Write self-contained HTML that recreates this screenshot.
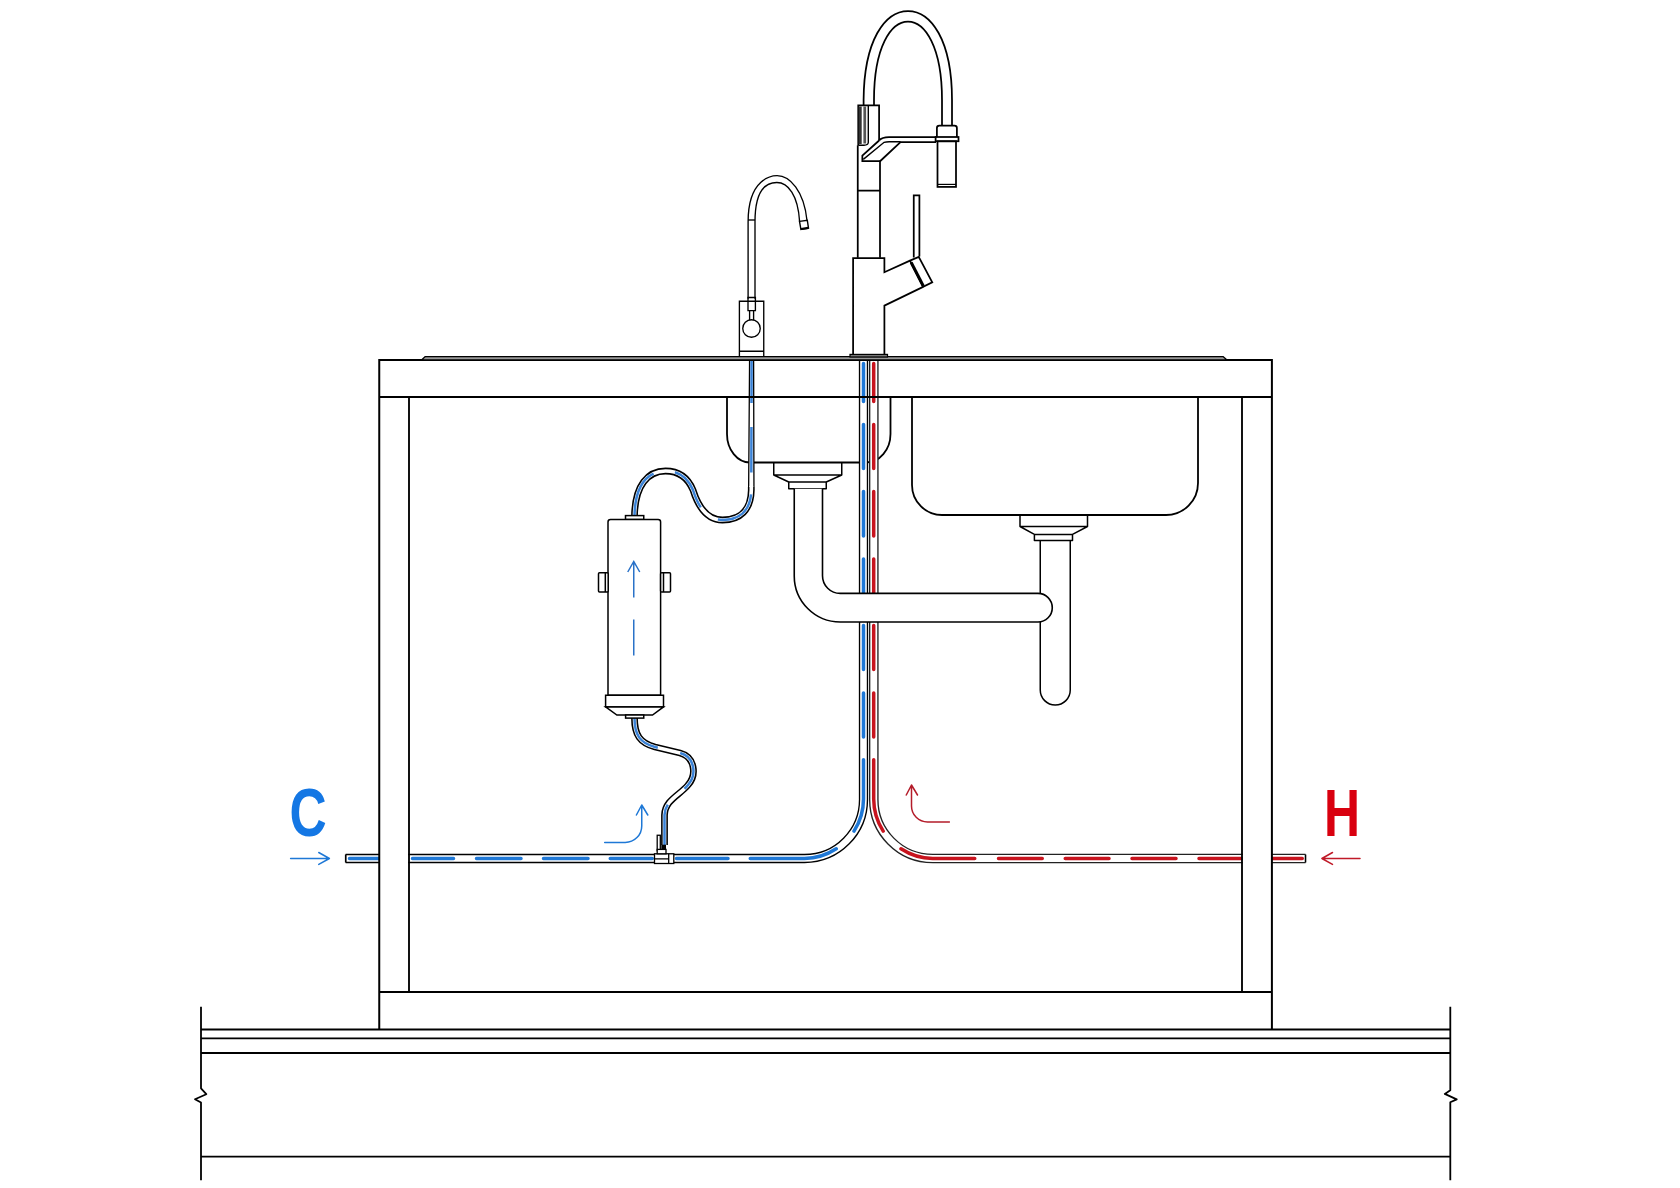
<!DOCTYPE html>
<html><head><meta charset="utf-8"><style>
html,body{margin:0;padding:0;background:#fff;}
svg{display:block;}
</style></head><body>
<svg width="1680" height="1188" viewBox="0 0 1680 1188">
<rect width="1680" height="1188" fill="#fff"/>
<g fill="none" stroke="#000" stroke-width="1.8" stroke-linejoin="round">
<!-- floor -->
<path d="M201,1029.5H1450.3M201,1038.3H1450.3M201,1053H1450.3M201,1156.7H1450.3"/>
<path d="M201,1006.7V1088.3L206.3,1094.2L195,1099.2L201,1102.5V1180.2"/>
<path d="M1450.3,1006.7V1090.2L1444.8,1093.9L1456.7,1099.4L1450.3,1102.2V1180.2"/>
<!-- small basin -->
<path d="M727,397V434A23,28.5 0 0 0 750,462.5H866A24.5,28.5 0 0 0 890.5,434V397"/>
<!-- big basin -->
<path d="M912,397V485A30,30 0 0 0 942,515H1166A32,32 0 0 0 1198,483V397"/>
<!-- drain flange 1 -->
<path d="M773.75,462.5V475H841.75V462.5M773.75,475L788.75,482H826.25L841.75,475M788.75,482V488.75H826.25V482" stroke-width="1.5"/>
<!-- drain flange 2 -->
<path d="M1020,514.75V526.5H1087.5V514.75M1020,526.5L1034.4,534.4H1072.5L1087.5,526.5M1034.4,534.4V540.6H1072.5V534.4" stroke-width="1.5"/>
<!-- trap pipe 2 -->
<path d="M1040.25,540.6V690A15,15 0 0 0 1070.25,690V540.6" stroke-width="1.5"/>
</g>

<!-- supply pipes -->
<g fill="none" stroke-linecap="butt">
<path d="M863.5,358V799A59,59 0 0 1 804.5,858.5H345.6" stroke="#000" stroke-width="9.3"/>
<path d="M873.8,358V799A59,59 0 0 0 932.8,858.5H1305.6" stroke="#222" stroke-width="9.6"/>
<path d="M863.5,358V799A59,59 0 0 1 804.5,858.5H346.4" stroke="#fff" stroke-width="6.6"/>
<path d="M873.8,358V799A59,59 0 0 0 932.8,858.5H1304.8" stroke="#fff" stroke-width="6.9"/>
</g>
<g fill="none" stroke-width="3.5" stroke-linecap="round">
<path stroke="#1f78d6" d="M863.5,363.5V401.5M863.5,424.5V468.5M863.5,491.5V536M863.5,559V603M863.5,625.5V669.5M863.5,693V737M863.5,759.8V799A59,59 0 0 1 854,831.1M836.2,848.8A59,59 0 0 1 804.5,858.5H750.25M728,858.5H676.5M652.25,858.5H610.25M588,858.5H543.5M521,858.5H476.5M453.5,858.5H412.5M379,858.5H349.5"/>
<path stroke="#c8141e" d="M873.7,363.5V401.5M873.7,424.5V468.5M873.7,491.5V536M873.7,559V603M873.7,625.5V669.5M873.7,693V737M873.7,759.8V799A59,59 0 0 0 883.2,831.1M901,848.8A59,59 0 0 0 932.7,858.5H974.75M998.5,858.5H1042.25M1065.25,858.5H1109M1132,858.5H1176M1199,858.5H1243M1271,858.5H1302.25"/>
</g>
<g fill="none" stroke="#000" stroke-width="1.4">
<path d="M345.6,854.5V862.5M1305.6,854.5V862.5"/>
</g>

<!-- RO hoses -->
<g fill="none" stroke-linecap="butt" stroke-linejoin="round">
<path d="M749.3,356L748.6,487H754L753.9,356Z" fill="#fff" stroke="none"/>
<path d="M749.6,356L748.65,487M753.6,356L753.95,487" stroke="#000" stroke-width="1.3"/>
<path d="M751.3,487V490C751,510 740,520 722.5,520C706,520 698,506 693,490C688,478 680,471 665.5,471C648,471 635,485 634.5,516" stroke="#000" stroke-width="6.8"/>
<path d="M751.3,486V490C751,510 740,520 722.5,520C706,520 698,506 693,490C688,478 680,471 665.5,471C648,471 635,485 634.5,516" stroke="#fff" stroke-width="3.7"/>
<path d="M751.6,356L751.3,490C751,510 740,520 722.5,520C706,520 698,506 693,490C688,478 680,471 665.5,471C648,471 635,485 634.5,516" stroke="#3a82d6" stroke-width="2.5" stroke-dasharray="47 24 45.5 21.75 47.5 21.75 45.25 21.75 60"/>
<path d="M634.5,718C634.5,735 640,743 655,747L680,753C695,757 697,775 688,785C680,795 665,800 664.5,815V845" stroke="#000" stroke-width="6.8"/>
<path d="M634.5,718C634.5,735 640,743 655,747L680,753C695,757 697,775 688,785C680,795 665,800 664.5,815V845" stroke="#fff" stroke-width="3.7"/>
<path d="M634.5,718C634.5,735 640,743 655,747L680,753C695,757 697,775 688,785C680,795 665,800 664.5,815V845" stroke="#3a82d6" stroke-width="2.5" stroke-dasharray="42 23 44.5 23 60"/>
</g>

<!-- drain pipe 1 (front) -->
<path d="M794.25,488.75V576A46,46 0 0 0 840.25,622H1038A14.3,14.3 0 0 0 1038,593.4H840.25A17.75,17.75 0 0 1 822.5,575.65V488.75" fill="#fff" stroke="#000" stroke-width="1.6"/>

<!-- filter -->
<g fill="#fff" stroke="#000" stroke-width="1.5">
<rect x="625.5" y="515.6" width="18.25" height="3.9"/>
<path d="M608,695.25V522Q608,519.5 610.5,519.5H658.1Q660.6,519.5 660.6,522V695.25Z"/>
<rect x="598.5" y="572.7" width="9.7" height="19.3" rx="1"/><path d="M605.3,572.7V592" fill="none"/>
<rect x="660.6" y="572.7" width="9.9" height="19.3" rx="1"/><path d="M663.5,572.7V592" fill="none"/>
<rect x="605.6" y="695.25" width="57.9" height="11.65"/>
<path d="M605.6,706.9L616.9,715H652.5L663.5,706.9Z"/>
<rect x="625.6" y="715" width="18.15" height="3.1"/>
</g>
<g fill="none" stroke="#2a72c8" stroke-width="1.5">
<path d="M633.75,597.5V562M627.75,572L633.75,561.5L639.75,572M633.75,619.4V655.6"/>
</g>

<!-- T fitting & valve -->
<g fill="#fff" stroke="#000" stroke-width="1.3">
<rect x="654.5" y="853.8" width="19.3" height="9.7"/>
<path d="M668.7,853.8V863.5M654.5,858.8H668.7" fill="none"/>
<rect x="657.2" y="835.25" width="3.1" height="15.45"/>
<rect x="657.2" y="849.4" width="8.8" height="4.4"/>
</g>
<rect x="661.3" y="844.7" width="4.7" height="4.7" fill="#000"/>

<!-- cabinet -->
<g fill="#fff" stroke="none">
<rect x="380" y="398" width="28.2" height="593.2"/>
<rect x="1242.8" y="398" width="28.3" height="593.2"/>
</g>
<g fill="none" stroke="#000" stroke-width="1.85">
<path d="M379.25,1029.5V360H1271.9V1029.5" stroke-width="2"/>
<path d="M379.25,397H1271.9M409,397V992M1242,397V992M379.25,992H1271.9"/>
</g>
<path d="M421.5,360L425.3,356.6H1223L1227,360Z" fill="#999" stroke="#000" stroke-width="1.3" stroke-linejoin="round"/>

<!-- main faucet -->
<g fill="none" stroke="#000" stroke-width="1.75" stroke-linejoin="miter">
<rect x="850" y="354.4" width="37.5" height="2.6" fill="#777" stroke-width="1.2"/>
<path d="M853.1,355V258H884.4V272.25L910,260.6M923.1,286.9L884.4,305.6V355"/>
<path d="M910,260.6L918.75,256.9L932.25,282.25L923.1,286.9Z"/>
<path d="M911.2,262.5L923.3,286" stroke-width="3"/>
<path d="M857.75,257.75V145.2M880,257.75V160.5M857.75,190.6H880"/>
<path d="M913.75,257.5V195.25H919.4V256.5"/>
<!-- collar -->
<path d="M858.25,145.2V105.4H879.1V140.4"/>
<rect x="858.6" y="106.5" width="3.1" height="37.5" fill="#333" stroke="none"/>
<rect x="863.4" y="106.5" width="2.7" height="37" fill="#555" stroke="none"/>
<path d="M868.3,106V142.5Q868,145.2 864,145.2H858.25" stroke-width="1.4"/>
<!-- arm -->
<path d="M879.1,140.4Q882,137 889,137H936.25"/>
<path d="M879.1,140.5L862.35,155.6V161H880.3L900.5,142H936"/>
<path d="M863.3,159.4L884.1,142.3Q886,141.7 889.2,141.7H900.5" stroke-width="1.4"/>
<!-- hose -->
<path d="M863.6,105.4V100C864,40 885,11 908,11C931,11 952,40 952,100V125.6"/>
<path d="M874,105.4V100C874,47 891,21.7 908,21.7C925,21.7 942,47 942,100V125.6"/>
<!-- spray head -->
<path d="M936.9,137V128Q936.9,125.6 939.3,125.6H954.5Q956.9,125.6 956.9,128V137"/>
<rect x="935.6" y="137" width="22.9" height="4.25"/>
<rect x="937.5" y="141.25" width="18.5" height="45.65"/>
<path d="M937.5,184.4H956" stroke-width="1.2"/>
</g>

<!-- small RO faucet -->
<g fill="none" stroke="#000" stroke-width="1.35">
<path d="M748.1,298.75V222C748.1,178 772.6,175.6 777.1,175.6C789.6,175.6 804,190.65 807,220.5"/>
<path d="M755,298.75V222C755,187 767.8,182.5 776.8,182.5C788,182.5 798,195 799.6,221.5"/>
<path d="M748.1,220H755"/>
<path d="M799.5,221.4L807.3,220.2L808.5,228.2L800.9,229.4Z" stroke-width="1.4"/>
<path d="M801,229L808.4,227.8" stroke-width="2.2"/>
<path d="M739.4,356.25V301.25H763.75V356.25M739.4,351.25H763.75"/>
<path d="M748,301.25V297.5H755.4V301.25M748,301.25V310.6H755.4V301.25M749.6,310.6V320M753.6,310.6V320"/>
<circle cx="751.5" cy="328.5" r="8.75" fill="#fff"/>
</g>

<!-- labels -->
<text x="0" y="0" transform="translate(289.5,835.5) scale(0.757,1)" font-family="Liberation Sans" font-weight="bold" font-size="68" fill="#1477e4">C</text>
<text x="0" y="0" transform="translate(1324.1,835.5) scale(0.745,1)" font-family="Liberation Sans" font-weight="bold" font-size="67" fill="#d9000f">H</text>
<g fill="none" stroke-width="1.5" stroke-linecap="round" stroke-linejoin="round">
<path stroke="#1e78d6" d="M290.6,858.5H329.4M318.75,852.5L329.4,858.5L318.75,864.4"/>
<path stroke="#c01a28" d="M1360,858.5H1321.9M1332.5,852.5L1321.9,858.5L1332.5,864.4"/>
<path stroke="#1e78d6" d="M604.7,842.4H625.25A16.5,16.5 0 0 0 641.75,825.9V805M636.4,815L641.75,805L647.8,815"/>
<path stroke="#b41c2a" d="M949.4,821.9H927.5A16,16 0 0 1 911.5,805.9V785M906.25,795L911.5,785L917.5,795"/>
</g>
</svg>
</body></html>
